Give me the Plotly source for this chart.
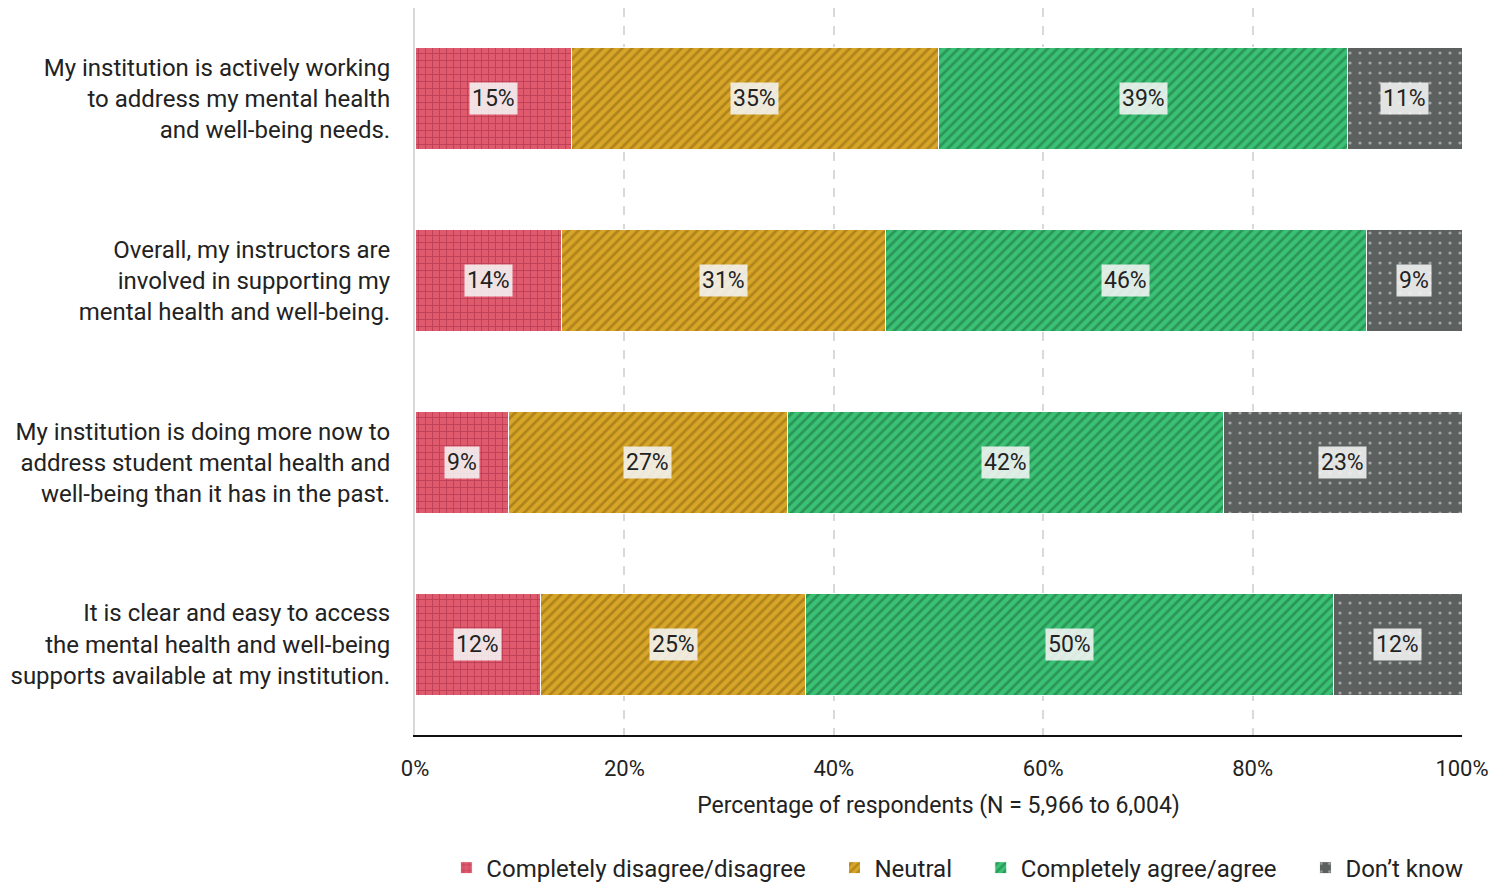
import plotly.graph_objects as go

# Survey statements (top to bottom) and response shares in percent
statements = [
    "My institution is actively working<br>to address my mental health<br>and well-being needs.",
    "Overall, my instructors are<br>involved in supporting my<br>mental health and well-being.",
    "My institution is doing more now to<br>address student mental health and<br>well-being than it has in the past.",
    "It is clear and easy to access<br>the mental health and well-being<br>supports available at my institution.",
]
disagree = [14.9, 14.0, 8.9, 12.0]
neutral = [35.1, 30.9, 26.7, 25.3]
agree = [39.1, 46.0, 41.6, 50.4]
dont_know = [10.9, 9.1, 22.8, 12.3]

series_names = ["Completely disagree/disagree", "Neutral", "Completely agree/agree", "Don\u2019t know"]
series_values = [disagree, neutral, agree, dont_know]
fill_colors = ["#e05a6e", "#d7a528", "#3bc174", "#5c6160"]
pattern_colors = ["#9e2440", "#8a6410", "#1b6a3d", "#e6e8e8"]
pattern_shapes = ["+", "/", "/", "."]
pattern_sizes = [7, 7, 7, 10]
pattern_solidity = [0.25, 0.4, 0.4, 0.08]

FONT = "Roboto"
TEXT = "#222222"
GAP = "\u00a0" * 4  # extra spacing between legend entries

fig = go.Figure()
for k, (name, vals, fc, pc, ps, sz, so) in enumerate(zip(series_names, series_values, fill_colors,
                                                         pattern_colors, pattern_shapes, pattern_sizes,
                                                         pattern_solidity)):
    fig.add_trace(go.Bar(
        name=name + (GAP if k < len(series_names) - 1 else ""),
        x=vals,
        y=statements,
        orientation="h",
        width=0.56,
        marker=dict(
            color=fc,
            line=dict(color="white", width=1),
            pattern=dict(shape=ps, fgcolor=pc, bgcolor=fc, size=sz, solidity=so, fillmode="overlay"),
        ),
        hovertemplate=name + ": %{x:.0f}%<extra></extra>",
    ))

# Value labels in light boxes at the centre of each segment
for i, stmt in enumerate(statements):
    left = 0
    for vals in series_values:
        v = vals[i]
        fig.add_annotation(
            x=left + v / 2, y=stmt, xref="x", yref="y",
            text=f"{v:.0f}%", showarrow=False,
            font=dict(family=FONT, size=23, color=TEXT),
            bgcolor="rgba(245,245,245,0.88)", borderpad=2,
        )
        left += v

fig.update_layout(
    width=1510, height=884,
    margin=dict(l=415, r=48, t=8, b=149, autoexpand=False),
    paper_bgcolor="white", plot_bgcolor="white",
    barmode="stack",
    font=dict(family=FONT, size=22, color=TEXT),
    showlegend=True,
    legend=dict(
        orientation="h", traceorder="normal",
        x=0.518, xanchor="center", y=-0.183, yanchor="middle",
        font=dict(family=FONT, size=24, color=TEXT),
        itemwidth=30, tracegroupgap=0,
    ),
    xaxis=dict(
        range=[0, 100], tickvals=[0, 20, 40, 60, 80, 100],
        ticktext=["0%", "20%", "40%", "60%", "80%", "100%"],
        showgrid=True, gridcolor="#d9d9d9", griddash="dash", gridwidth=2,
        zeroline=False, showline=True, linecolor="#111111", linewidth=2,
        ticks="", tickfont=dict(family=FONT, size=22, color=TEXT),
        ticklabelstandoff=13,
        title=dict(text="Percentage of respondents (N = 5,966 to 6,004)",
                   font=dict(family=FONT, size=23, color=TEXT), standoff=16),
        fixedrange=True,
    ),
    yaxis=dict(
        autorange="reversed", range=[3.5, -0.5],
        showgrid=False, zeroline=False, showline=True, linecolor="#d9d9d9", linewidth=2,
        ticks="", tickfont=dict(family=FONT, size=24, color=TEXT),
        ticklabelstandoff=18,
        fixedrange=True,
    ),
)

fig.write_html("out.html")
